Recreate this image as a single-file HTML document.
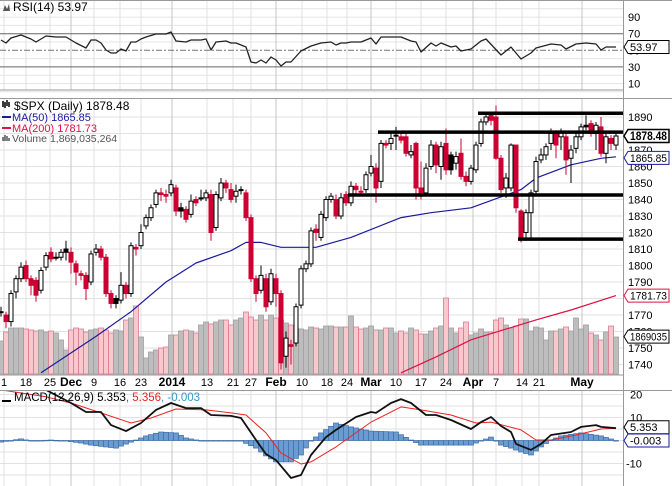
<!DOCTYPE html>
<html><head><meta charset="utf-8"><style>
html,body{margin:0;padding:0;background:#fff;}
svg{display:block;font-family:"Liberation Sans",sans-serif;}
</style></head><body>
<svg id="chart" width="672" height="486" viewBox="0 0 672 486" xmlns="http://www.w3.org/2000/svg">
<defs>
<clipPath id="cRsi"><rect x="0" y="0" width="623" height="90"/></clipPath>
<clipPath id="cPrice"><rect x="0" y="99" width="623" height="276"/></clipPath>
<clipPath id="cMacd"><rect x="0" y="391" width="623" height="95"/></clipPath>
</defs>
<g id="grid"></g>
<g id="vol" clip-path="url(#cPrice)"></g>
<g id="price" clip-path="url(#cPrice)"></g>
<g id="rsi" clip-path="url(#cRsi)"></g>
<g id="macd" clip-path="url(#cMacd)"></g>
<g id="labels"></g>
</svg>
<script>
const opens=[1772,1770,1766,1784,1792,1800,1792,1791,1785,1799,1808,1805,1805,1810,1808,1801,1795,1794,1790,1808,1810,1805,1783,1780,1779,1788,1783,1811,1812,1824,1829,1837,1844,1843,1844,1847,1835,1834,1831,1840,1841,1841,1843,1823,1841,1850,1846,1842,1846,1844,1829,1792,1785,1792,1778,1792,1783,1745,1752,1753,1776,1798,1801,1822,1817,1829,1840,1840,1830,1843,1838,1848,1845,1846,1856,1859,1851,1874,1874,1879,1878,1878,1867,1874,1847,1844,1860,1873,1860,1874,1867,1862,1868,1854,1851,1858,1874,1887,1891,1890,1865,1847,1847,1873,1833,1820,1832,1845,1864,1867,1874,1880,1878,1878,1865,1871,1878,1885,1886,1880,1884,1868,1877,1873];
const closes=[1772,1766,1783,1792,1799,1792,1788,1782,1797,1806,1804,1805,1808,1808,1802,1796,1794,1786,1807,1810,1805,1783,1777,1777,1788,1783,1812,1810,1820,1829,1835,1844,1843,1842,1849,1833,1833,1828,1839,1838,1841,1844,1820,1843,1850,1847,1840,1845,1846,1829,1792,1783,1794,1775,1795,1783,1741,1756,1751,1775,1798,1801,1821,1820,1831,1840,1842,1830,1841,1838,1848,1846,1845,1855,1860,1847,1874,1873,1877,1879,1876,1868,1869,1847,1842,1859,1873,1861,1872,1858,1858,1866,1854,1851,1859,1873,1887,1890,1888,1865,1846,1853,1873,1835,1817,1832,1844,1863,1867,1872,1880,1873,1881,1864,1870,1878,1884,1884,1880,1885,1868,1878,1874,1878.48];
const highs=[1775,1772,1785,1794,1802,1803,1794,1793,1799,1808,1811,1808,1810,1815,1811,1803,1797,1796,1809,1813,1812,1807,1785,1782,1796,1790,1814,1813,1825,1831,1837,1846,1847,1846,1852,1849,1838,1836,1843,1842,1846,1846,1846,1845,1853,1852,1850,1849,1848,1846,1831,1794,1800,1795,1798,1795,1785,1760,1755,1777,1800,1803,1823,1825,1833,1842,1844,1843,1844,1845,1851,1850,1848,1857,1867,1862,1876,1876,1881,1884,1881,1881,1873,1875,1863,1862,1876,1875,1875,1883,1869,1869,1877,1857,1861,1875,1889,1893,1893,1897,1867,1856,1874,1873,1834,1834,1846,1866,1871,1874,1883,1882,1883,1880,1873,1880,1886,1891,1888,1887,1890,1880,1879,1880];
const lows=[1769,1762,1763,1780,1790,1790,1782,1778,1783,1797,1802,1803,1803,1803,1795,1788,1791,1779,1788,1806,1803,1781,1774,1774,1777,1780,1781,1806,1810,1822,1827,1835,1839,1838,1842,1830,1829,1826,1829,1836,1839,1839,1815,1821,1839,1844,1838,1838,1843,1827,1790,1778,1783,1772,1776,1775,1737,1738,1740,1751,1774,1796,1799,1815,1815,1827,1838,1828,1828,1836,1836,1843,1843,1844,1854,1838,1847,1871,1870,1870,1874,1866,1865,1840,1840,1842,1858,1856,1852,1855,1855,1858,1852,1848,1849,1856,1872,1885,1885,1864,1844,1841,1845,1832,1814,1815,1815,1843,1862,1864,1870,1865,1870,1855,1850,1868,1876,1882,1878,1870,1866,1862,1870,1870];
const volumes=[1650,2100,2300,2300,2300,2250,2200,2150,2200,2100,2150,2050,1700,1200,2200,2300,2250,2100,2200,2250,2300,2200,2050,2200,2150,2700,2800,3400,1850,800,1100,1200,1300,1350,1950,1950,2150,2200,2150,2050,2450,2600,2500,2600,2700,2700,2450,2700,2800,3100,2850,2700,2950,2700,2950,2800,2700,2550,2450,2300,2250,2200,2350,2300,2250,2400,2400,2350,2350,2350,2900,2350,2250,2300,2400,2200,2200,2300,2300,2050,2150,2050,2300,2200,2000,2000,2150,2300,2400,3800,2300,2050,2300,2600,1950,2050,2250,2100,2100,2700,2800,2450,2300,2400,2750,2750,2150,2350,2300,1700,2150,2150,2250,2350,2150,2800,2250,2450,2050,1950,1700,2100,2400,1850];
const ma50Idx=[9,20,27,34,40,47,50,53,57,64,71,81,87,95,105,108,115,121,124];
const ma50Val=[1735,1757,1772,1790,1801.5,1809,1814,1814,1811,1811,1817,1829,1832,1835,1846,1853,1861,1865,1865.85];
const ma200Idx=[81,88,95,108,115,124];
const ma200Val=[1735,1744.6,1755,1767,1773,1781.73];
const rsiIdx=[1,2,3,5,7,8,10,12,14,15,16,18,19,20,21,22,23,24,25,26,27,28,29,30,32,34,35,36,38,39,41,42,43,44,46,47,48,50,51,52,53,54,55,56,57,58,59,61,63,65,67,68,69,70,71,73,75,76,77,80,81,83,84,85,87,88,89,91,92,93,95,97,98,101,103,105,107,108,111,113,114,116,118,120,121,122,124];
const rsiVal=[62.4,58.8,64.8,68.4,63.6,60,67.2,66,66,62.4,58.8,52.8,62.4,62.4,58.8,50.4,46.7,46.7,51.6,49.2,60,60,63.6,66,69.6,69.6,72,61.2,60,62.4,62.4,63.6,50.4,60,61.2,58.8,58.8,54,35.9,34.7,38.3,34.7,41.9,38.3,31.1,35.9,35.9,49.2,55.2,58.8,60,56.4,58.8,58.8,60,60,64.8,57.6,66,66,66,61.2,60,48,58.8,55.2,58.8,54,55.2,49.2,51.6,61.2,63.6,44.3,54,39.5,46.7,52.8,57.6,56.4,51.6,57.6,58.8,57.6,50.4,54,53.97];
const macdIdx=[1,10,15,18,21,23,26,29,32,35,38,41,43,47,49,52,54,56,59,61,63,66,68,72,75,76,79,81,83,86,88,91,95,97,99,101,103,104,107,109,111,115,117,120,121,124];
const macdVal=[26,22,16.3,12.4,12.4,6.7,4.1,7.6,13.3,16.3,14.1,14.1,11.1,10.7,9.8,0.2,-5.9,-8.5,-16.3,-15,-6.3,1.5,4.6,10.2,12.4,12,16.3,18,16.3,11.1,11.1,8.9,5,8,10.2,6.3,3.7,-1.5,-4.1,-1.5,2.4,3.7,5.9,6.7,5.9,5.353];
const sigIdx=[1,10,15,21,27,31,36,42,47,50,54,57,61,63,68,75,81,85,91,96,99,105,108,111,116,121,124];
const sigVal=[22,19,16.3,12,7.6,9.8,13.7,13.3,12,11.1,3.3,-5.4,-10.2,-9.3,-2.8,8,14.6,13.3,11.1,7.6,8,4.6,0.2,0.2,2.4,5,5.356];
const histIdx=[1,5,7,11,14,17,19,22,24,27,30,33,36,38,41,49,52,54,56,59,61,63,65,68,71,75,80,83,85,89,95,97,99,101,103,105,107,109,111,113,117,121,124];
const histVal=[-0.7,0.7,-0.2,0.2,-0.2,-1.1,-2,-2.8,-3.3,-0.7,2,3.7,3.3,1.1,-0.2,-0.2,-3.3,-6.7,-9.3,-9.3,-6.3,-0.2,3.3,7.6,5.9,4.1,3.7,0.2,-2,-2,-2,-0.2,1.5,-2,-3.3,-5,-6.3,-2.8,0.2,2,3.3,2,-0.003];
const priceTicks=[1890,1880,1870,1860,1850,1840,1830,1820,1810,1800,1790,1780,1770,1760,1750,1740];
const rsiTicks=[90,70,50,30,10];
const macdTicks=[20,10,-10];
const dateLabels=["1","18","25","Dec","9","16","23","2014","13","21","27","Feb","10","18","24","Mar","10","17","24","Apr","7","14","21","May"];
const dateIdx=[1.6,6,10.8,15,19.6,24.8,29,35.2,42.2,47.4,51,56,61.2,66.2,70.2,75,80,85,90,95.4,100,105.2,108.6,117.2];
const dateBold=[0,0,0,1,0,0,0,1,0,0,0,1,0,0,0,1,0,0,0,1,0,0,0,1];
const levelVals=[1892.3,1880.8,1842.7,1816];
const levelStart=[97,77,71,105];

const NS="http://www.w3.org/2000/svg";
function mk(tag,attrs,parent){const e=document.createElementNS(NS,tag);for(const k in attrs)e.setAttribute(k,attrs[k]);if(parent)parent.appendChild(e);return e;}
const xOf=i=>1+5*i;
const xIdx=k=>1+5*(k-1);
const yP=p=>117+(1890-p)*1.65;
const yR=v=>50.3-(v-50)*0.83;
const yM=v=>440.5-v*2.3;
const yV=v=>374-v/50;
function interp(ix,iv,k){if(k<=ix[0])return iv[0];for(let j=1;j<ix.length;j++){if(k<=ix[j]){const t=(k-ix[j-1])/(ix[j]-ix[j-1]);return iv[j-1]+t*(iv[j]-iv[j-1]);}}return iv[iv.length-1];}
const G=id=>document.getElementById(id);
const grid=G('grid'),vol=G('vol'),price=G('price'),rsiG=G('rsi'),macdG=G('macd'),lab=G('labels');

for(let p=1740;p<=1890;p+=10){const l=mk('line',{x1:0,x2:623,y1:yP(p),y2:yP(p),stroke:'#e2e2e2','stroke-width':1},grid);}
for(let v=0;v<=100;v+=10){if(v===70||v===30||v===50)continue;const l=mk('line',{x1:0,x2:623,y1:yR(v),y2:yR(v),stroke:'#e6e6e6'},grid);}
for(let v=-20;v<=20;v+=5){if(yM(v)<391)continue;const l=mk('line',{x1:0,x2:623,y1:yM(v),y2:yM(v),stroke:'#e2e2e2'},grid);}
dateLabels.forEach((d,j)=>{const x=xIdx(dateIdx[j]);const c=dateBold[j]?'#c4c4c4':'#e0e0e0';
 [[0,90],[99,375],[391,486]].forEach(r=>{const l=mk('line',{x1:x,x2:x,y1:r[0],y2:r[1],stroke:c},grid);});});
[70,30].forEach(v=>{const l=mk('line',{x1:0,x2:623,y1:yR(v),y2:yR(v),stroke:'#666','stroke-width':1},grid);});
{const l=mk('line',{x1:0,x2:623,y1:yR(50),y2:yR(50),stroke:'#777','stroke-dasharray':'6,2,2,2'},grid);}
[[0,0.5,672,0.5],[0,90,623,90],[0,98.5,672,98.5],[0,375,623,375],[0,390.5,672,390.5],[623.5,0,623.5,486]].forEach(b=>{const l=mk('line',{x1:b[0],y1:b[1],x2:b[2],y2:b[3],stroke:'#999'},grid);});

volumes.forEach((v,i)=>{const down=i>0&&closes[i]<closes[i-1];const r=mk('rect',{x:xOf(i)-2.5,y:yV(v),width:5,height:374-yV(v),fill:down?'#f9c8cc':'#bdbdbd',stroke:down?'#d77a95':'#a0a0a0','stroke-width':0.8},vol);
 });

function knotLine(ix,iv,yf,col,w,parent,name){let d='';ix.forEach((k,j)=>{d+=(j?'L':'M')+xIdx(k)+','+yf(iv[j]).toFixed(1);});const p=mk('path',{d:d,fill:'none',stroke:col,'stroke-width':w,'stroke-linejoin':'round'},parent);return p;}
knotLine(ma200Idx,ma200Val,yP,'#dd1144',1.2,price,'ma200-line');
knotLine(ma50Idx,ma50Val,yP,'#1a1aa0',1.2,price,'ma50-line');

closes.forEach((c,i)=>{const o=opens[i];const down=i>0&&c<closes[i-1];const col=down?'#cc0033':'#000';const x=xOf(i);
 const w=mk('line',{x1:x,x2:x,y1:yP(highs[i]),y2:yP(lows[i]),stroke:col,'stroke-width':1},price);
 
 const top=yP(Math.max(o,c)),bot=yP(Math.min(o,c));const hollow=c>o;
 const b=mk('rect',{x:x-2,y:top,width:4,height:Math.max(1,bot-top),fill:hollow?'#fff':col,stroke:col,'stroke-width':1},price);
 });

levelVals.forEach((v,j)=>{const l=mk('line',{x1:xIdx(levelStart[j])-3,x2:623,y1:yP(v),y2:yP(v),stroke:'#000','stroke-width':3.5},price);});

knotLine(rsiIdx,rsiVal,yR,'#222',1.3,rsiG,'rsi-line');

for(let i=0;i<closes.length;i++){const v=interp(histIdx,histVal,i+1);const y0=yM(0),y1=yM(v);
 const r=mk('rect',{x:xOf(i)-2.5,y:Math.min(y0,y1),width:5,height:Math.max(0.6,Math.abs(y1-y0)),fill:'#6a9bd1',stroke:'#3f6fa8','stroke-width':0.7},macdG);
 }
knotLine(sigIdx,sigVal,yM,'#ee2222',1,macdG,'macd-signal-line');
knotLine(macdIdx,macdVal,yM,'#111',1.8,macdG,'macd-line');

function txt(x,y,s,attrs,name){const t=mk('text',Object.assign({x:x,y:y,'font-size':11,fill:'#000'},attrs||{}),lab);t.textContent=s;return t;}
priceTicks.forEach(p=>txt(628,yP(p)+4,String(p),{},'price-tick-label'));
rsiTicks.forEach(v=>txt(628,yR(v)+4,String(v),{},'rsi-tick-label'));
macdTicks.forEach(v=>txt(v<0?626:630,yM(v)+4,String(v),{},'macd-tick-label'));
dateLabels.forEach((d,j)=>txt(xIdx(dateIdx[j]),386,d,{'text-anchor':'middle','font-weight':dateBold[j]?'bold':'normal','font-size':dateBold[j]?12:11},'date-label'));

function tag(y,s,col,bold,name){const g=mk('g',{},lab);
 mk('path',{d:`M624,${y} L628,${y-6.5} L669,${y-6.5} L669,${y+6.5} L628,${y+6.5} Z`,fill:'#fff',stroke:col,'stroke-width':bold?1.5:1},g);
 const a={x:630,y:y+4,'font-size':bold?11.5:11,'font-weight':bold?'bold':'normal',fill:'#000'};
 if(s.length>=7){a.textLength=37;a.lengthAdjust='spacingAndGlyphs';}
 const t=mk('text',a,g);t.textContent=s;}
tag(yR(53.97),'53.97','#000',false,'rsi-value-tag');
tag(yP(1878.48),'1878.48','#000',true,'price-value-tag');
tag(yP(1865.85)+1,'1865.85','#1a1aa0',false,'ma50-value-tag');
tag(yP(1781.73),'1781.73','#dd1144',false,'ma200-value-tag');
tag(yV(1869),'1869035','#000',false,'volume-value-tag');
tag(yM(5.353)-1,'5.353','#000',false,'macd-value-tag');
tag(yM(0),'-0.003','#1a1aa0',false,'histogram-value-tag');

const lg=mk('g',{},lab);
function ltxt(x,y,parts,size,name){const t=mk('text',{x:x,y:y,'font-size':size},lg);parts.forEach(p=>{const s=mk('tspan',{fill:p[1]},t);s.textContent=p[0];});}
mk('path',{d:'M3,11 L5,5 L7,9 L9,4 L10,11 Z',fill:'#555'},lg);
ltxt(13,11,[['RSI(14) 53.97','#000']],12,'rsi-legend');
mk('path',{d:'M3,107 L3,101 M5,108 L5,102 M7,106 L7,100 M9,107 L9,102',stroke:'#000','stroke-width':1.5},lg);
ltxt(14,110,[['$SPX (Daily) 1878.48','#000']],12,'price-legend');
mk('rect',{x:2,y:116,width:9,height:2,fill:'#1a1aa0'},lg);
ltxt(12,121,[['MA(50) 1865.85','#1a1aa0']],11,'ma50-legend');
mk('rect',{x:2,y:127,width:9,height:2,fill:'#dd1144'},lg);
ltxt(12,132,[['MA(200) 1781.73','#dd1144']],11,'ma200-legend');
mk('path',{d:'M3,141 L3,137 M5,141 L5,135 M7,141 L7,136 M9,141 L9,138',stroke:'#555','stroke-width':1.5},lg);
ltxt(12,142,[['Volume 1,869,035,264','#555']],10.5,'volume-legend');
mk('rect',{x:2,y:400,width:9,height:2,fill:'#000'},lg);
ltxt(14,401,[['MACD(12,26,9) 5.353','#000'],[', 5.356','#ee2222'],[', -0.003','#3399cc']],11.5,'macd-legend');
</script>
</body></html>
